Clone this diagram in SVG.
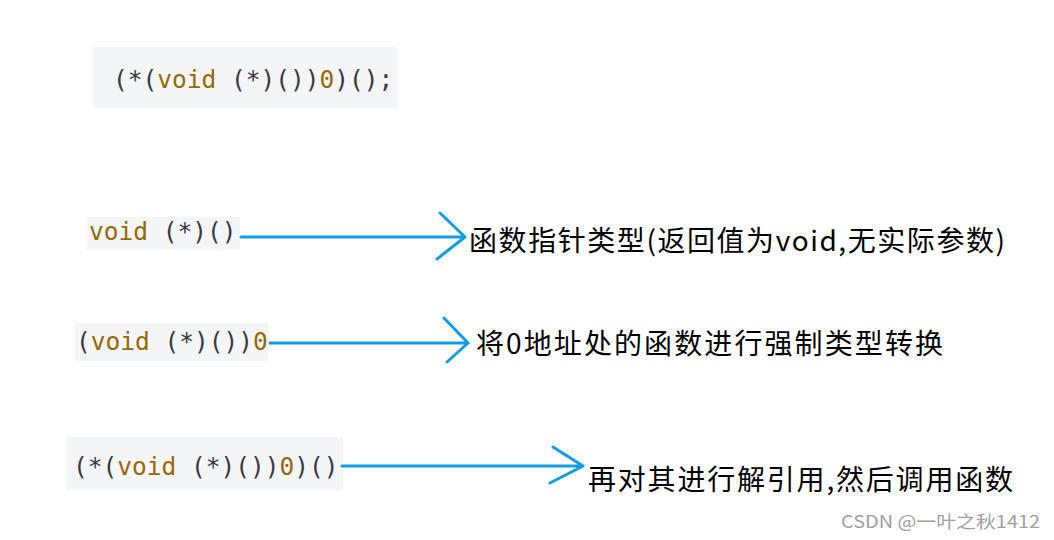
<svg xmlns="http://www.w3.org/2000/svg" width="1054" height="540" viewBox="0 0 1054 540">
<style>
.box{fill:#f4f5f7}
.code{font-family:"DejaVu Sans Mono","Liberation Mono",monospace;font-size:24.5px;fill:#383a42;white-space:pre}
.kw{fill:#986801}
.lbl{font-family:"Noto Sans CJK SC","Noto Sans",sans-serif;font-size:28px;fill:#000}
.arr{stroke:#0f9ee3;stroke-width:3;fill:none;stroke-linecap:round;stroke-linejoin:round}
</style>
<rect width="1054" height="540" fill="#fff"/>
<g id="code-full">
<rect class="box" x="93" y="47" width="305" height="61"/>
<text class="code" x="113" y="88">(*(<tspan class="kw">void</tspan> (*)())<tspan class="kw">0</tspan>)();</text>
</g>
<g id="code-type">
<rect class="box" x="87" y="217" width="153" height="33"/>
<text class="code" x="89" y="240"><tspan class="kw">void</tspan> (*)()</text>
</g>
<g id="code-cast">
<rect class="box" x="75" y="323" width="193" height="38"/>
<text class="code" x="76" y="350">(<tspan class="kw">void</tspan> (*)())<tspan class="kw">0</tspan></text>
</g>
<g id="code-call">
<rect class="box" x="66" y="437" width="277" height="53"/>
<text class="code" x="73" y="475">(*(<tspan class="kw">void</tspan> (*)())<tspan class="kw">0</tspan>)()</text>
</g>
<g id="connectors">
<path class="arr" d="M241 237 H465 M440 213 L465 237 L437 259"/>
<path class="arr" d="M270 343 H468 M444 318 L468 343 L447 362"/>
<path class="arr" d="M342 466 H583 M553 447 L583 466 L550 483"/>
</g>
<g id="label-type">
<text class="lbl" x="469" y="251" textLength="536" lengthAdjust="spacing">函数指针类型(返回值为void,无实际参数)</text>
</g>
<g id="label-cast">
<text class="lbl" x="476" y="354" textLength="467" lengthAdjust="spacing">将0地址处的函数进行强制类型转换</text>
</g>
<g id="label-call">
<text class="lbl" x="588" y="490" textLength="425" lengthAdjust="spacing">再对其进行解引用,然后调用函数</text>
</g>
<text x="841" y="528" font-family="Noto Sans CJK SC, Noto Sans, sans-serif" font-size="17.5" fill="#a0a0a0" textLength="199" lengthAdjust="spacingAndGlyphs">CSDN @一叶之秋1412</text>
</svg>
